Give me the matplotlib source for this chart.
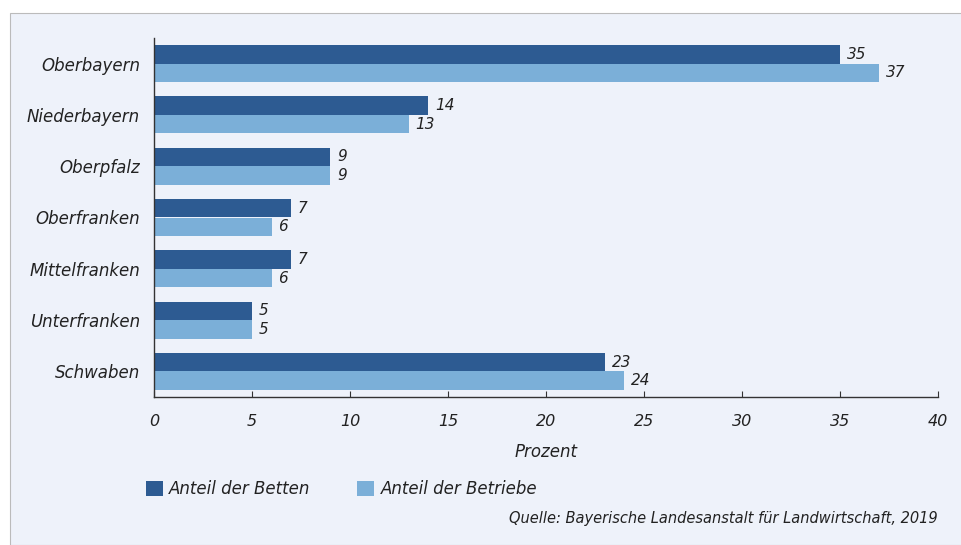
import matplotlib
matplotlib.use('Agg')
import matplotlib.pyplot as plt
from matplotlib.patches import Rectangle, Patch
import numpy as np

regions = ['Oberbayern', 'Niederbayern', 'Oberpfalz', 'Oberfranken',
           'Mittelfranken', 'Unterfranken', 'Schwaben']
betten = [35, 14, 9, 7, 7, 5, 23]
betriebe = [37, 13, 9, 6, 6, 5, 24]
xticks = [0, 5, 10, 15, 20, 25, 30, 35, 40]

dark = '#2d5b92'
light = '#7bafd8'
bg = '#eef2fa'
txt = '#222222'

plt.rcParams['font.family'] = ['Liberation Sans Narrow', 'DejaVu Sans']
plt.rcParams['font.style'] = 'italic'

fig = plt.figure(figsize=(9.62, 5.45), dpi=100)
fig.patch.set_facecolor('white')
panel = Rectangle((10 / 962, 0), 1.0, 1 - 13 / 545, transform=fig.transFigure,
                  facecolor=bg, edgecolor='#bbbbbb', linewidth=0.8, zorder=-10)
fig.patches.append(panel)

ax = fig.add_axes([154 / 962, 1 - 397 / 545, (938 - 154) / 962, (397 - 38) / 545])
ax.set_zorder(5)
ax.set_facecolor('none')

y = np.arange(len(regions))
h = 0.36
ax.barh(y - h / 2, betten, height=h, color=dark, label='Anteil der Betten')
ax.barh(y + h / 2, betriebe, height=h, color=light, label='Anteil der Betriebe')

# value labels at the bar ends
for yi, v in zip(y, betten):
    ax.text(v + 0.35, yi - h / 2, str(v), va='center', ha='left', fontsize=11, color=txt)
for yi, v in zip(y, betriebe):
    ax.text(v + 0.35, yi + h / 2, str(v), va='center', ha='left', fontsize=11, color=txt)

ax.set_xlim(0, 40)
ax.set_ylim(6.5, -0.5)
ax.set_yticks(y)
ax.set_yticklabels(regions, fontsize=12, color=txt)
ax.tick_params(axis='y', length=0, pad=10)
ax.set_xticks(xticks)
ax.set_xticklabels([str(t) for t in xticks], fontsize=11.5, color=txt)
ax.tick_params(axis='x', direction='in', length=4, pad=12, color='#333333')
ax.set_xlabel('Prozent', fontsize=12, color=txt, labelpad=10)

for s in ['top', 'right']:
    ax.spines[s].set_visible(False)
for s in ['left', 'bottom']:
    ax.spines[s].set_color('#333333')
    ax.spines[s].set_linewidth(1.0)

handles = [Patch(facecolor=dark), Patch(facecolor=light)]
fig.legend(handles, ['Anteil der Betten', 'Anteil der Betriebe'],
           loc='center left', bbox_to_anchor=(131 / 962, 1 - 489 / 545),
           ncol=2, frameon=False, fontsize=12, handlelength=1.0, handleheight=1.0,
           handletextpad=0.4, columnspacing=2.8, labelcolor=txt)

fig.text(938 / 962, 1 - 519 / 545, 'Quelle: Bayerische Landesanstalt für Landwirtschaft, 2019',
         ha='right', va='center', fontsize=10.5, color=txt)

fig.savefig('out.png', dpi=100)
